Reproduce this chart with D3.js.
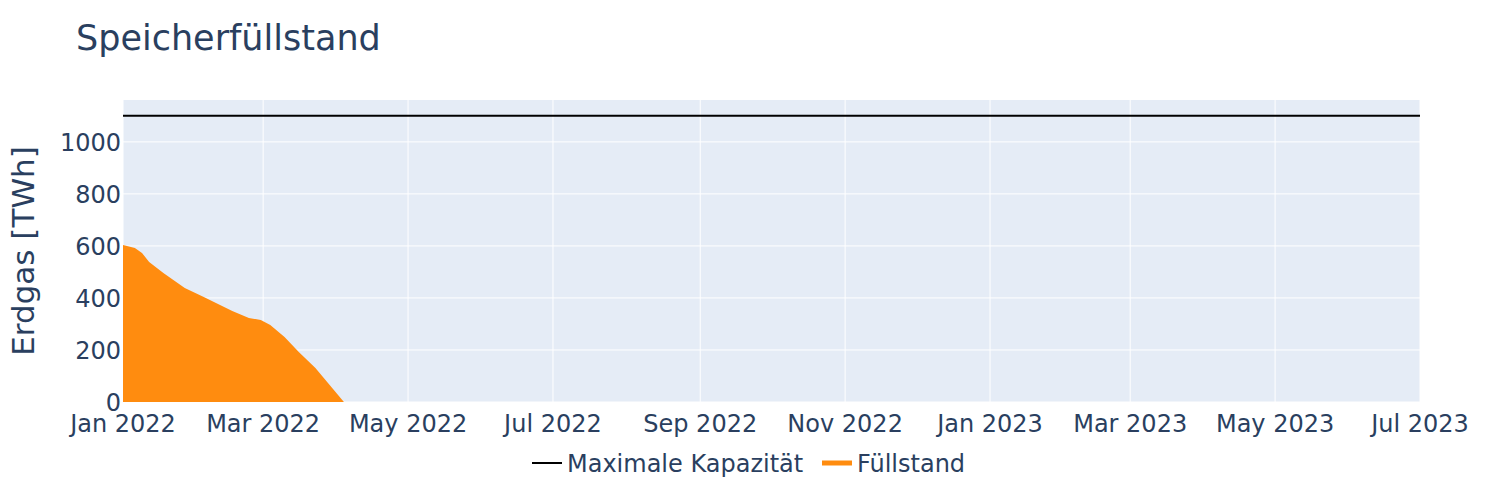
<!DOCTYPE html>
<html><head><meta charset="utf-8">
<script src="https://cdn.jsdelivr.net/npm/d3@7"></script>
<style>body{margin:0;background:#fff;font-family:"DejaVu Sans",sans-serif}</style>
</head><body><div id="chart"></div>
<script>
const fillDates = ["2022-01-01","2022-01-06","2022-01-09","2022-01-12","2022-01-18","2022-01-27","2022-02-04","2022-02-16","2022-02-23","2022-02-28","2022-03-04","2022-03-10","2022-03-16","2022-03-23","2022-03-29","2022-04-04"];
const fillValues = [604,592,573,538,496,438,404,350,323,315,296,250,192,131,65,0];
const capacity = 1100;
const xTicks = ["2022-01-01","2022-03-01","2022-05-01","2022-07-01","2022-09-01","2022-11-01","2023-01-01","2023-03-01","2023-05-01","2023-07-01"];
const yTicks = [0,200,400,600,800,1000];

const W = 1500, H = 500;
const m = {left:123, right:80, top:100, bottom:98};
const parse = d3.timeParse("%Y-%m-%d");
const fmt = d3.timeFormat("%b %Y");
const svg = d3.select("#chart").append("svg").attr("width",W).attr("height",H);
const x = d3.scaleTime().domain([parse("2022-01-01"), parse("2023-07-01")]).range([m.left, W-m.right]);
const y = d3.scaleLinear().domain([0, 1161]).range([H-m.bottom, m.top]);

svg.append("rect").attr("x",m.left).attr("y",m.top).attr("width",W-m.right-m.left).attr("height",H-m.bottom-m.top).attr("fill","#e5ecf6");
// grid
svg.append("g").selectAll("line").data(xTicks).join("line")
  .attr("x1",d=>x(parse(d))).attr("x2",d=>x(parse(d))).attr("y1",m.top).attr("y2",H-m.bottom)
  .attr("stroke","#fff").attr("stroke-width",1);
svg.append("g").selectAll("line").data(yTicks).join("line")
  .attr("x1",m.left).attr("x2",W-m.right).attr("y1",d=>y(d)).attr("y2",d=>y(d))
  .attr("stroke","#fff").attr("stroke-width",1);

const fillData = fillDates.map((d,i)=>({date:parse(d), v:fillValues[i]}));
svg.append("path").datum(fillData)
  .attr("d", d3.area().x(d=>x(d.date)).y0(y(0)).y1(d=>y(d.v)))
  .attr("fill","#ff8c0f");

svg.append("line").attr("x1",m.left).attr("x2",W-m.right).attr("y1",y(capacity)).attr("y2",y(capacity))
  .attr("stroke","#000").attr("stroke-width",2);

// axes labels
const tc = "#2a3f5f";
svg.append("g").selectAll("text").data(xTicks).join("text")
  .attr("x",d=>x(parse(d))).attr("y",H-m.bottom+30).attr("text-anchor","middle")
  .attr("fill",tc).style("font-size","24px").text(d=>fmt(parse(d)));
svg.append("g").selectAll("text").data(yTicks).join("text")
  .attr("x",m.left-2).attr("y",d=>y(d)+9).attr("text-anchor","end")
  .attr("fill",tc).style("font-size","24px").text(d=>d);
svg.append("text").attr("transform",`translate(34,${(m.top+H-m.bottom)/2}) rotate(-90)`)
  .attr("text-anchor","middle").attr("fill",tc).style("font-size","31px").text("Erdgas [TWh]");
svg.append("text").attr("x",76).attr("y",50).attr("fill",tc).style("font-size","35px").text("Speicherfüllstand");

// legend
const lg = svg.append("g").attr("transform","translate(532,463)");
lg.append("line").attr("x1",0).attr("x2",30).attr("stroke","#000").attr("stroke-width",2);
lg.append("text").attr("x",35).attr("y",9).attr("fill",tc).style("font-size","24px").text("Maximale Kapazität");
lg.append("line").attr("x1",290).attr("x2",320).attr("stroke","#ff8c0f").attr("stroke-width",5);
lg.append("text").attr("x",325).attr("y",9).attr("fill",tc).style("font-size","24px").text("Füllstand");
</script></body></html>
